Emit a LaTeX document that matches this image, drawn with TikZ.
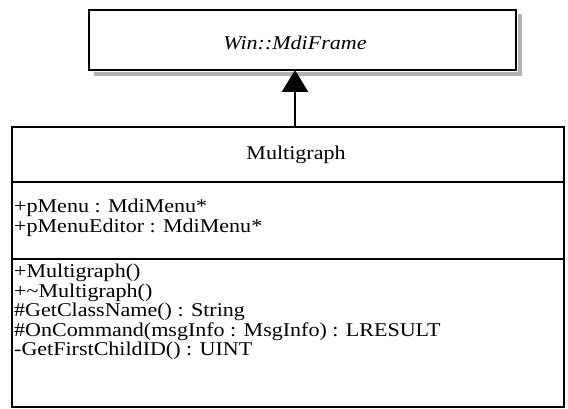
\documentclass[tikz,border=0pt]{standalone}
\usepackage{fontspec}
\setmainfont[FakeStretch=1.13]{Liberation Serif}
\usetikzlibrary{arrows.meta}
\tikzset{
  boxline/.style={line width=2.8pt, draw=black},
  shadowline/.style={line width=3.5pt, draw=black!30},
  txt/.style={inner sep=0pt, font=\fontsize{19.5}{19.5}\selectfont},
  memb/.style={txt, anchor=west},
}
\begin{document}
\begin{tikzpicture}[x=1pt,y=-1pt]
\useasboundingbox (0,0) rectangle (568,409);
% superclass
\draw[shadowline] (520,14) -- (520,74) -- (94,74);
\draw[boxline, fill=white] (89,10) rectangle (516,70);
\node[txt, font=\fontsize{19.5}{19.5}\selectfont\itshape] (super) at (295,43) {Win::MdiFrame};
\coordinate (supbot) at (295,70);
% class box
\draw[boxline] (12,127) rectangle (564,407);
\draw[boxline] (12,182) -- (564,182);
\draw[boxline] (12,259) -- (564,259);
\coordinate (subtop) at (295,127);
\node[txt] (name) at (296,155) {Multigraph};
\node[memb] (a1) at (14,208) {+pMenu : MdiMenu*};
\node[memb] (a2) at (14,228) {+pMenuEditor : MdiMenu*};
\node[memb] (m1) at (14,273) {+Multigraph()};
\node[memb] (m2) at (14,292.5) {+\textasciitilde Multigraph()};
\node[memb] (m3) at (14,312) {\#GetClassName() : String};
\node[memb] (m4) at (14,331.5) {\#OnCommand(msgInfo : MsgInfo) : LRESULT};
\node[memb] (m5) at (14,351) {-GetFirstChildID() : UINT};
% generalization
\draw[line width=2.6pt, -{Triangle[length=22pt,width=26pt]}] (subtop) -- (supbot);
\end{tikzpicture}
\end{document}
